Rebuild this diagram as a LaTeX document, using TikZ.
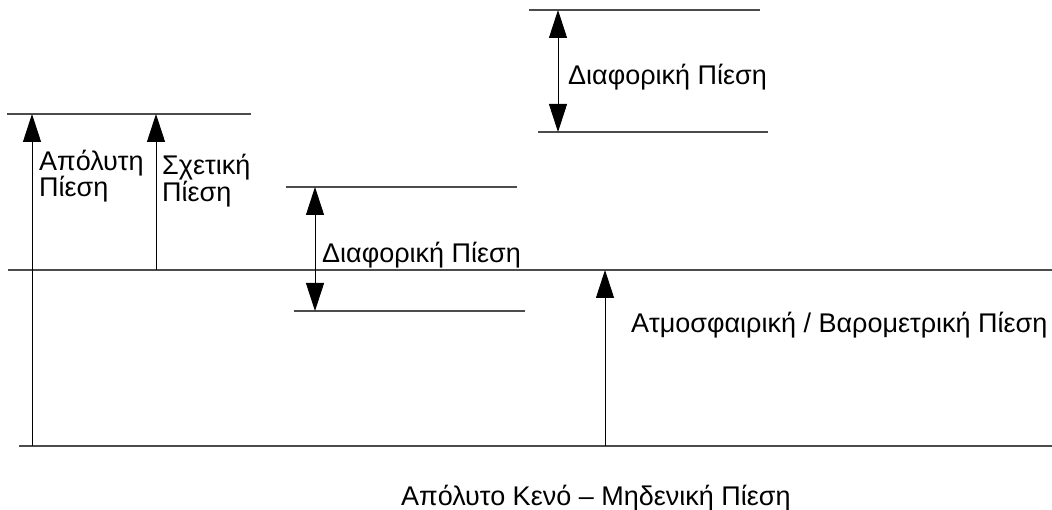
\documentclass[tikz,border=0pt]{standalone}
\usepackage{fontspec}
\setmainfont{Liberation Sans}
\usetikzlibrary{arrows.meta}
\begin{document}
\begin{tikzpicture}[x=1pt,y=-1pt,
  level/.style={draw=black!70,line width=1.1pt},
  meas/.style={draw=black,line width=1pt,-{Triangle[width=18pt,length=28pt]}},
  measboth/.style={draw=black,line width=1pt,{Triangle[width=18pt,length=28pt]}-{Triangle[width=18pt,length=28pt]}},
  lbl/.style={anchor=base west,inner sep=0pt,font=\fontsize{27}{31}\selectfont}]
\useasboundingbox (0,0) rectangle (1052,510);

% reference levels
\coordinate (atmL) at (8,270);   \coordinate (atmR) at (1052,270);
\coordinate (vacL) at (19,446);  \coordinate (vacR) at (1052,446);
\coordinate (absL) at (7,114);   \coordinate (absR) at (251,114);
\coordinate (d1tL) at (286,187); \coordinate (d1tR) at (517,187);
\coordinate (d1bL) at (294,311); \coordinate (d1bR) at (525,311);
\coordinate (d2tL) at (529,10);  \coordinate (d2tR) at (760,10);
\coordinate (d2bL) at (538,132); \coordinate (d2bR) at (768,132);

\draw[level] (atmL) -- (atmR);
\draw[level] (vacL) -- (vacR);
\draw[level] (absL) -- (absR);
\draw[level] (d1tL) -- (d1tR);
\draw[level] (d1bL) -- (d1bR);
\draw[level] (d2tL) -- (d2tR);
\draw[level] (d2bL) -- (d2bR);

% arrow end points
\coordinate (absFrom) at (32,446);  \coordinate (absTo) at (32,114);
\coordinate (gFrom) at (156,270);   \coordinate (gTo) at (156,114);
\coordinate (d1Top) at (315,187);   \coordinate (d1Bot) at (315,311);
\coordinate (d2Top) at (558,10);    \coordinate (d2Bot) at (558,132);
\coordinate (atFrom) at (605,446);  \coordinate (atTo) at (605,270);

\draw[meas] (absFrom) -- (absTo);
\draw[meas] (gFrom) -- (gTo);
\draw[measboth] (d1Top) -- (d1Bot);
\draw[measboth] (d2Top) -- (d2Bot);
\draw[meas] (atFrom) -- (atTo);

% labels
\node[lbl] (abs1) at (39,171) {Απόλυτη};
\node[lbl] (abs2) at (39,197) {Πίεση};
\node[lbl] (g1) at (162,175) {Σχετική};
\node[lbl] (g2) at (162,202) {Πίεση};
\node[lbl] (d1) at (322,263) {Διαφορική Πίεση};
\node[lbl] (d2) at (568,85) {Διαφορική Πίεση};
\node[lbl] (atm) at (631,333) {Ατμοσφαιρική / Βαρομετρική Πίεση};
\node[lbl] (vac) at (401,505) {Απόλυτο Κενό – Μηδενική Πίεση};
\end{tikzpicture}
\end{document}
